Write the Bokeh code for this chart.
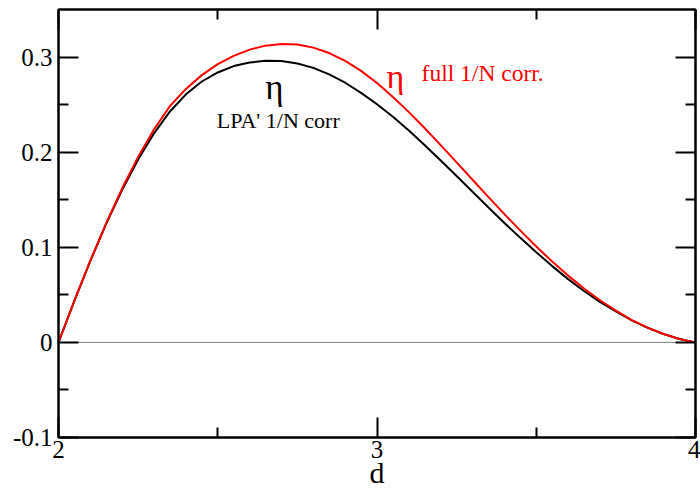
from bokeh.plotting import figure
from bokeh.models import (LinearAxis, FixedTicker, Span, Range1d, ColumnDataSource,
                          CustomLabelingPolicy)
from bokeh.core.properties import value
from bokeh.embed import file_html
from bokeh.resources import INLINE

# ---- data ----
d = [2.00, 2.05, 2.10, 2.15, 2.20, 2.25, 2.30, 2.35, 2.40, 2.45,
     2.50, 2.55, 2.60, 2.65, 2.70, 2.75, 2.80, 2.85, 2.90, 2.95,
     3.00, 3.05, 3.10, 3.15, 3.20, 3.25, 3.30, 3.35, 3.40, 3.45,
     3.50, 3.55, 3.60, 3.65, 3.70, 3.75, 3.80, 3.85, 3.90, 3.95, 4.00]

eta_full = [0.0, 0.0440, 0.0860, 0.1255, 0.1620, 0.1950, 0.2240, 0.2485, 0.2665, 0.2810,
            0.2925, 0.3013, 0.3078, 0.3120, 0.3138, 0.3131, 0.3099, 0.3042, 0.2960, 0.2855,
            0.2727, 0.2581, 0.2421, 0.2251, 0.2074, 0.1893, 0.1710, 0.1528, 0.1349, 0.1175,
            0.1008, 0.0850, 0.0702, 0.0566, 0.0443, 0.0334, 0.0235, 0.0155, 0.0088, 0.0036, 0.0]

eta_lpa = [0.0, 0.0440, 0.0858, 0.1248, 0.1605, 0.1923, 0.2198, 0.2428, 0.2608, 0.2743,
           0.2838, 0.2905, 0.2942, 0.2960, 0.2958, 0.2933, 0.2886, 0.2818, 0.2730, 0.2624,
           0.2504, 0.2372, 0.2227, 0.2073, 0.1913, 0.1749, 0.1583, 0.1418, 0.1256, 0.1099,
           0.0948, 0.0802, 0.0665, 0.0540, 0.0426, 0.0325, 0.0231, 0.0152, 0.0087, 0.0036, 0.0]

x_major_ticks = [2, 3, 4]
x_minor_ticks = [2.5, 3.5]
y_major_ticks = [-0.1, 0.0, 0.1, 0.2, 0.3]
y_minor_ticks = [-0.05, 0.05, 0.15, 0.25]
y_tick_labels = {-0.1: "-0.1", 0.0: "0", 0.1: "0.1", 0.2: "0.2", 0.3: "0.3"}
x_tick_labels = {2: "2", 3: "3", 4: "4"}

x_title = "d"
lpa_label = "LPA' 1/N corr"
full_label = "full 1/N corr."
eta_symbol = "η"

FONT = "Liberation Serif"

p = figure(width=700, height=491,
           x_range=Range1d(2, 4), y_range=Range1d(-0.1, 0.35),
           output_backend="svg", toolbar_location=None,
           min_border_left=58, min_border_right=2,
           min_border_top=9, min_border_bottom=54)
p.xgrid.visible = False
p.ygrid.visible = False
p.outline_line_color = "black"
p.outline_line_width = 2
p.background_fill_color = "white"
p.border_fill_color = "white"

xt = FixedTicker(ticks=x_major_ticks, minor_ticks=x_minor_ticks)
yt = FixedTicker(ticks=y_major_ticks, minor_ticks=y_minor_ticks)


def style_axis(ax, size="25px"):
    ax.major_tick_in = 20
    ax.major_tick_out = 0
    ax.minor_tick_in = 10
    ax.minor_tick_out = 0
    ax.major_tick_line_width = 2
    ax.minor_tick_line_width = 2
    ax.major_tick_line_color = "black"
    ax.minor_tick_line_color = "black"
    ax.axis_line_width = 2
    ax.axis_line_color = "black"
    ax.major_label_text_font = FONT
    ax.major_label_text_font_size = size
    ax.major_label_text_color = "black"


xa = p.xaxis[0]
xa.ticker = xt
style_axis(xa)
xa.major_label_overrides = x_tick_labels
xa.major_label_standoff = 3
xa.axis_label = x_title
xa.axis_label_text_font = FONT
xa.axis_label_text_font_size = "30px"
xa.axis_label_text_font_style = "normal"
xa.axis_label_text_color = "black"
xa.axis_label_standoff = -5

ya = p.yaxis[0]
ya.ticker = yt
style_axis(ya)
ya.major_label_overrides = y_tick_labels
ya.major_label_standoff = 6

hide_labels = CustomLabelingPolicy(
    code="const all = [...indices]; for (const i of all) { indices.unset(i) } return indices")

ra = LinearAxis(ticker=yt)
style_axis(ra, "1px")
ra.major_label_policy = hide_labels
ra.major_label_standoff = 0
p.add_layout(ra, "right")

ta = LinearAxis(ticker=xt)
style_axis(ta, "1px")
ta.major_label_policy = hide_labels
ta.major_label_standoff = 0
p.add_layout(ta, "above")

p.add_layout(Span(location=0, dimension="width", line_color="#808080",
                  line_width=1, level="underlay"))

src = ColumnDataSource(dict(d=d, full=eta_full, lpa=eta_lpa))
p.line("d", "lpa", source=src, line_color="black", line_width=2)
p.line("d", "full", source=src, line_color="red", line_width=2)

# annotations
p.text(x=[2.678], y=[0.268], text=[eta_symbol], text_font=value(FONT),
       text_font_size="35px", text_color="black", text_align="center",
       text_baseline="alphabetic")
p.text(x=[2.497], y=[0.2335], text=[lpa_label], text_font=value(FONT),
       text_font_size="22px", text_color="black", text_align="left",
       text_baseline="alphabetic")
p.text(x=[3.058], y=[0.2798], text=[eta_symbol], text_font=value(FONT),
       text_font_size="34px", text_color="red", text_align="center",
       text_baseline="alphabetic")
p.text(x=[3.14], y=[0.2834], text=[full_label], text_font=value(FONT),
       text_font_size="23.5px", text_color="red", text_align="left",
       text_baseline="alphabetic")

open("out.html", "w").write(file_html(p, INLINE))
